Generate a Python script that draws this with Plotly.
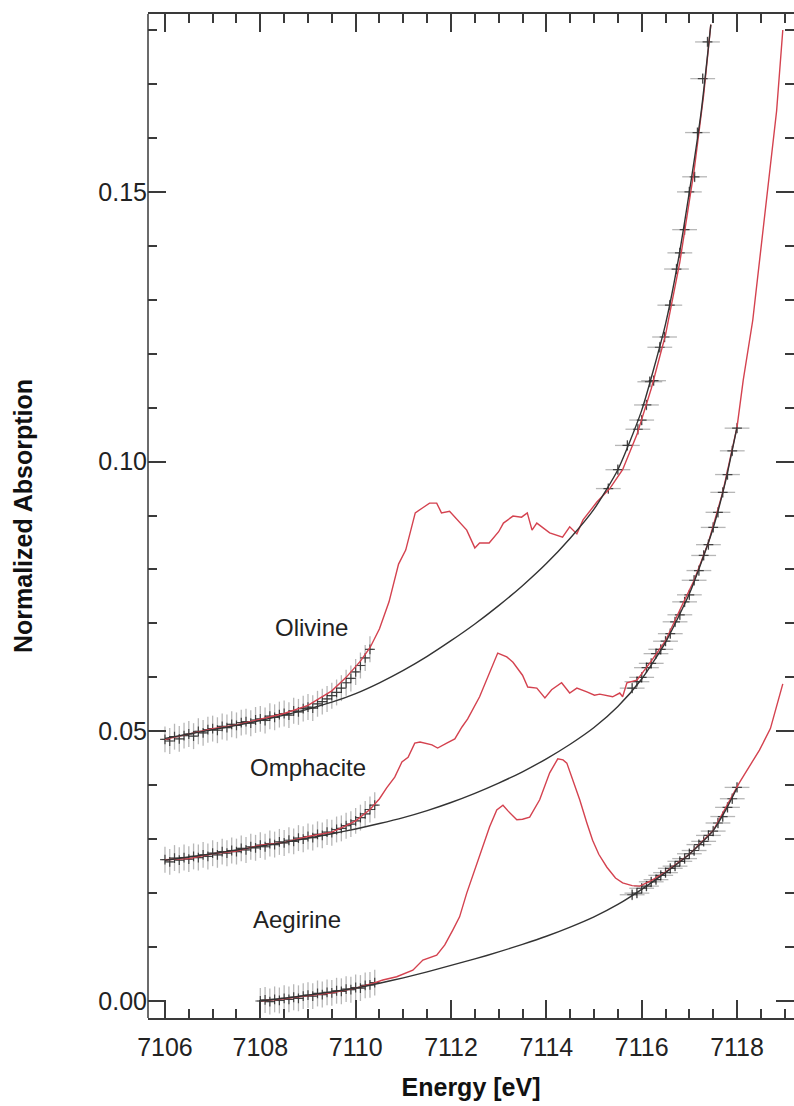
import plotly.graph_objects as go

# ---------------- data ----------------
# Olivine
oli_fit_x = [7106, 7106.5, 7107, 7107.5, 7108, 7108.5, 7109, 7109.5, 7110, 7110.5, 7111, 7111.5, 7112, 7112.5,
             7113, 7113.5, 7114, 7114.5, 7115, 7115.5, 7116, 7116.5, 7116.75, 7117, 7117.25, 7117.45]
oli_fit_y = [0.0487, 0.0495, 0.0503, 0.0511, 0.0520, 0.0530, 0.0541, 0.0554, 0.0570, 0.0590, 0.0613, 0.0639, 0.0668, 0.0699,
             0.0733, 0.0770, 0.0811, 0.0858, 0.0912, 0.0985, 0.1095, 0.1255, 0.1365, 0.1500, 0.1650, 0.1810]
oli_red_x = [7106.0, 7106.5, 7107.0, 7107.5, 7108.0, 7108.5, 7109.0, 7109.5, 7109.8, 7110.1, 7110.3, 7110.5, 7110.7,
             7110.9, 7111.05, 7111.25, 7111.4, 7111.55, 7111.7, 7111.8, 7111.97, 7112.15, 7112.33, 7112.5, 7112.6,
             7112.8, 7113.0, 7113.1, 7113.3, 7113.48, 7113.6, 7113.7, 7113.8, 7114.07, 7114.34, 7114.49, 7114.64,
             7114.77, 7115.06, 7115.33, 7115.6, 7115.9, 7116.2, 7116.5, 7116.8, 7117.1, 7117.3, 7117.45]
oli_red_y = [0.0485, 0.0495, 0.0505, 0.0512, 0.0522, 0.0533, 0.0548, 0.0575, 0.0600, 0.0630, 0.0655, 0.0690, 0.0740,
             0.0810, 0.0836, 0.0905, 0.0914, 0.0923, 0.0923, 0.0905, 0.0908, 0.0890, 0.0873, 0.0840, 0.0849,
             0.0849, 0.0870, 0.0886, 0.0899, 0.0897, 0.0905, 0.0873, 0.0886, 0.0868, 0.0860, 0.0879, 0.0866,
             0.0892, 0.0925, 0.0950, 0.0985, 0.1050, 0.1135, 0.1235, 0.1370, 0.1540, 0.1680, 0.1810]
oli_pts_lo_x = [7106.0, 7106.1, 7106.2, 7106.3, 7106.4, 7106.5, 7106.6, 7106.7, 7106.8, 7106.9,
                7107.0, 7107.1, 7107.2, 7107.3, 7107.4, 7107.5, 7107.6, 7107.7, 7107.8, 7107.9,
                7108.0, 7108.1, 7108.2, 7108.3, 7108.4, 7108.5, 7108.6, 7108.7, 7108.8, 7108.9,
                7109.0, 7109.1, 7109.2, 7109.3, 7109.4, 7109.5, 7109.6, 7109.7, 7109.8, 7109.9,
                7110.0, 7110.1, 7110.2, 7110.3]
oli_pts_lo_y = [0.0485, 0.0482, 0.0490, 0.0486, 0.0492, 0.0495, 0.0491, 0.0500, 0.0497, 0.0503,
                0.0505, 0.0502, 0.0509, 0.0507, 0.0513, 0.0511, 0.0516, 0.0518, 0.0515, 0.0521,
                0.0523, 0.0520, 0.0528, 0.0526, 0.0531, 0.0533, 0.0530, 0.0538, 0.0536, 0.0542,
                0.0545, 0.0543, 0.0551, 0.0555, 0.0560, 0.0566, 0.0572, 0.0580, 0.0590, 0.0598,
                0.0610, 0.0622, 0.0636, 0.0652]
oli_pts_hi_x = [7115.3, 7115.5, 7115.7, 7115.92, 7116.0, 7116.1, 7116.17, 7116.25, 7116.38, 7116.48,
                7116.59, 7116.73, 7116.8, 7116.9, 7117.0, 7117.11, 7117.17, 7117.28, 7117.38]
oli_pts_hi_y = [0.0950, 0.0985, 0.1030, 0.1060, 0.1077, 0.1105, 0.1148, 0.1150, 0.1212, 0.1231,
                0.1290, 0.1357, 0.1387, 0.1430, 0.1500, 0.1528, 0.1610, 0.1710, 0.1778]

# Omphacite
omp_fit_x = [7106, 7106.5, 7107, 7107.5, 7108, 7108.5, 7109, 7109.5, 7110, 7110.5, 7111, 7111.5, 7112, 7112.5,
             7113, 7113.5, 7114, 7114.5, 7115, 7115.5, 7116, 7116.5, 7117, 7117.25, 7117.5, 7117.75, 7118]
omp_fit_y = [0.0261, 0.0267, 0.0273, 0.0280, 0.0287, 0.0294, 0.0302, 0.0310, 0.0319, 0.0329, 0.0340, 0.0353, 0.0368, 0.0385,
             0.0404, 0.0425, 0.0449, 0.0476, 0.0507, 0.0546, 0.0597, 0.0665, 0.0755, 0.0813, 0.0877, 0.0960, 0.1064]
omp_red_x = [7106.0, 7106.5, 7107.0, 7107.5, 7108.0, 7108.5, 7109.0, 7109.5, 7109.8, 7110.0, 7110.3, 7110.5, 7110.65,
             7110.82, 7110.97, 7111.1, 7111.24, 7111.35, 7111.6, 7111.72, 7111.91, 7112.08, 7112.23, 7112.35, 7112.6,
             7112.81, 7112.98, 7113.17, 7113.3, 7113.5, 7113.61, 7113.8, 7113.97, 7114.11, 7114.32, 7114.49, 7114.64,
             7114.85, 7115.01, 7115.12, 7115.39, 7115.54, 7115.6, 7115.69, 7115.9, 7116.2, 7116.5, 7116.8, 7117.1,
             7117.4, 7117.7, 7118.0, 7118.13, 7118.33, 7118.5, 7118.62, 7118.83, 7118.96]
omp_red_y = [0.0262, 0.0264, 0.0273, 0.0278, 0.0289, 0.0294, 0.0305, 0.0313, 0.0325, 0.0334, 0.0355, 0.0375, 0.0395,
             0.0415, 0.0443, 0.0452, 0.0478, 0.0480, 0.0475, 0.0469, 0.0478, 0.0486, 0.0508, 0.0523, 0.0564,
             0.0608, 0.0645, 0.0638, 0.0628, 0.0604, 0.0582, 0.0580, 0.0562, 0.0577, 0.0590, 0.0571, 0.0580,
             0.0573, 0.0567, 0.0569, 0.0564, 0.0571, 0.0564, 0.0590, 0.0595, 0.0630, 0.0668, 0.0725, 0.0780,
             0.0850, 0.0943, 0.1064, 0.1151, 0.1262, 0.1390, 0.1485, 0.1650, 0.1800]
omp_pts_lo_x = [7106.0, 7106.1, 7106.2, 7106.3, 7106.4, 7106.5, 7106.6, 7106.7, 7106.8, 7106.9,
                7107.0, 7107.1, 7107.2, 7107.3, 7107.4, 7107.5, 7107.6, 7107.7, 7107.8, 7107.9,
                7108.0, 7108.1, 7108.2, 7108.3, 7108.4, 7108.5, 7108.6, 7108.7, 7108.8, 7108.9,
                7109.0, 7109.1, 7109.2, 7109.3, 7109.4, 7109.5, 7109.6, 7109.7, 7109.8, 7109.9,
                7110.0, 7110.1, 7110.2, 7110.3, 7110.4]
omp_pts_lo_y = [0.0262, 0.0258, 0.0265, 0.0261, 0.0266, 0.0263, 0.0268, 0.0266, 0.0271, 0.0268,
                0.0274, 0.0271, 0.0277, 0.0274, 0.0279, 0.0277, 0.0283, 0.0280, 0.0286, 0.0284,
                0.0289, 0.0286, 0.0292, 0.0290, 0.0295, 0.0293, 0.0298, 0.0296, 0.0302, 0.0300,
                0.0305, 0.0303, 0.0309, 0.0307, 0.0313, 0.0312, 0.0318, 0.0320, 0.0325, 0.0328,
                0.0334, 0.0340, 0.0347, 0.0355, 0.0363]
omp_pts_hi_x = [7115.8, 7115.9, 7116.0, 7116.1, 7116.2, 7116.3, 7116.4, 7116.5, 7116.6, 7116.7, 7116.8, 7116.9,
                7117.0, 7117.1, 7117.2, 7117.3, 7117.4, 7117.5, 7117.6, 7117.7, 7117.8, 7117.9, 7118.0]
omp_pts_hi_y = [0.0580, 0.0592, 0.0600, 0.0618, 0.0626, 0.0644, 0.0652, 0.0667, 0.0681, 0.0703, 0.0716, 0.0740,
                0.0753, 0.0780, 0.0798, 0.0826, 0.0846, 0.0878, 0.0906, 0.0943, 0.0976, 0.1020, 0.1062]

# Aegirine
aeg_fit_x = [7108, 7108.5, 7109, 7109.5, 7110, 7110.5, 7111, 7111.5, 7112, 7112.5, 7113, 7113.5, 7114, 7114.5,
             7115, 7115.5, 7116, 7116.5, 7117, 7117.5, 7117.75, 7118]
aeg_fit_y = [0.0000, 0.0005, 0.0011, 0.0017, 0.0024, 0.0033, 0.0043, 0.0054, 0.0066, 0.0078, 0.0091, 0.0105, 0.0120, 0.0137,
             0.0156, 0.0179, 0.0207, 0.0238, 0.0272, 0.0316, 0.0352, 0.0395]
aeg_red_x = [7108.0, 7108.5, 7109.0, 7109.5, 7110.0, 7110.3, 7110.57, 7110.86, 7111.2, 7111.41, 7111.7, 7111.87,
             7112.04, 7112.18, 7112.33, 7112.5, 7112.65, 7112.81, 7112.96, 7113.09, 7113.2, 7113.38, 7113.5,
             7113.65, 7113.86, 7114.07, 7114.24, 7114.35, 7114.43, 7114.55, 7114.7, 7114.85, 7114.97, 7115.1,
             7115.27, 7115.45, 7115.6, 7115.8, 7115.96, 7116.2, 7116.5, 7117.0, 7117.5, 7118.05, 7118.47,
             7118.7, 7118.96]
aeg_red_y = [0.0000, 0.0004, 0.0010, 0.0015, 0.0024, 0.0031, 0.0039, 0.0045, 0.0057, 0.0076, 0.0085, 0.0104,
             0.0132, 0.0156, 0.0200, 0.0245, 0.0285, 0.0323, 0.0354, 0.0363, 0.0352, 0.0336, 0.0337,
             0.0341, 0.0373, 0.0423, 0.0449, 0.0447, 0.0441, 0.0412, 0.0373, 0.0330, 0.0298, 0.0272,
             0.0248, 0.0228, 0.0219, 0.0214, 0.0213, 0.0223, 0.0239, 0.0272, 0.0316, 0.0405, 0.0465,
             0.0505, 0.0588]
aeg_pts_lo_x = [7108.0, 7108.1, 7108.2, 7108.3, 7108.4, 7108.5, 7108.6, 7108.7, 7108.8, 7108.9,
                7109.0, 7109.1, 7109.2, 7109.3, 7109.4, 7109.5, 7109.6, 7109.7, 7109.8, 7109.9,
                7110.0, 7110.1, 7110.2, 7110.3, 7110.4]
aeg_pts_lo_y = [0.0000, 0.0002, -0.0001, 0.0003, 0.0001, 0.0005, 0.0003, 0.0007, 0.0005, 0.0009,
                0.0011, 0.0009, 0.0014, 0.0012, 0.0016, 0.0015, 0.0019, 0.0018, 0.0022, 0.0021,
                0.0025, 0.0024, 0.0029, 0.0030, 0.0034]
aeg_pts_hi_x = [7115.8, 7115.9, 7116.0, 7116.1, 7116.2, 7116.3, 7116.4, 7116.5, 7116.6, 7116.7, 7116.8, 7116.9,
                7117.0, 7117.1, 7117.2, 7117.3, 7117.4, 7117.5, 7117.6, 7117.7, 7117.8, 7117.9, 7118.0]
aeg_pts_hi_y = [0.0197, 0.0200, 0.0209, 0.0213, 0.0221, 0.0225, 0.0233, 0.0238, 0.0246, 0.0250, 0.0259, 0.0264,
                0.0273, 0.0279, 0.0290, 0.0296, 0.0307, 0.0315, 0.0330, 0.0342, 0.0359, 0.0375, 0.0396]

labels = ["Olivine", "Omphacite", "Aegirine"]
label_x = [7109.08, 7109.0, 7108.77]
label_y = [0.0693, 0.0432, 0.0152]

x_ticks = [7106, 7108, 7110, 7112, 7114, 7116, 7118]
y_ticks = [0.00, 0.05, 0.10, 0.15]

# ---------------- figure ----------------
FONT = "Liberation Sans, Arial, Helvetica, sans-serif"
RED = "#d4424f"
FIT = "#333333"
ERR = "rgba(95,95,95,0.45)"
MK = "rgba(25,25,25,0.75)"
AX = "#3a3a3a"

fig = go.Figure()

point_sets = [
    (oli_pts_lo_x, oli_pts_lo_y, 0.07, 0.0024),
    (oli_pts_hi_x, oli_pts_hi_y, 0.26, 0.0010),
    (omp_pts_lo_x, omp_pts_lo_y, 0.07, 0.0024),
    (omp_pts_hi_x, omp_pts_hi_y, 0.26, 0.0010),
    (aeg_pts_lo_x, aeg_pts_lo_y, 0.07, 0.0024),
    (aeg_pts_hi_x, aeg_pts_hi_y, 0.26, 0.0010),
]
for px, py, ex, ey in point_sets:
    fig.add_trace(go.Scatter(
        x=px, y=py, mode="markers",
        marker=dict(symbol="cross-thin", size=7, line=dict(color=MK, width=1.2), color=MK),
        error_x=dict(type="constant", value=ex, color=ERR, thickness=1.3, width=0),
        error_y=dict(type="constant", value=ey, color=ERR, thickness=1.3, width=0),
        showlegend=False, hoverinfo="skip"))

for rx, ry in [(oli_red_x, oli_red_y), (omp_red_x, omp_red_y), (aeg_red_x, aeg_red_y)]:
    fig.add_trace(go.Scatter(x=rx, y=ry, mode="lines", line=dict(color=RED, width=1.4),
                             showlegend=False))

for fx, fy in [(oli_fit_x, oli_fit_y), (omp_fit_x, omp_fit_y), (aeg_fit_x, aeg_fit_y)]:
    fig.add_trace(go.Scatter(x=fx, y=fy, mode="lines", line=dict(color=FIT, width=1.4, shape="spline", smoothing=0.6),
                             showlegend=False))

for t, lx, ly in zip(labels, label_x, label_y):
    fig.add_annotation(x=lx, y=ly, text=t, showarrow=False,
                       font=dict(family=FONT, size=24, color="#222222"))

tick_common = dict(
    ticks="inside", tickcolor=AX, tickwidth=1.5, ticklen=18,
    showgrid=False, zeroline=False,
    tickfont=dict(family=FONT, size=25, color="#222222"),
)

fig.update_xaxes(
    showline=True, linecolor=AX, linewidth=1.5, mirror="ticks",
    range=[7105.644, 7119.195], tickvals=x_ticks, ticktext=[str(v) for v in x_ticks],
    ticklabelstandoff=6,
    minor=dict(dtick=0.5, tick0=7106, ticks="inside", ticklen=9, tickwidth=1.5, tickcolor=AX, showgrid=False),
    title=dict(text="<b>Energy [eV]</b>", font=dict(family=FONT, size=25, color="#111111"), standoff=19),
    **tick_common)
fig.update_yaxes(
    showline=False, mirror="ticks",
    range=[-0.00315, 0.18298], tickvals=y_ticks, ticktext=[f"{v:.2f}" for v in y_ticks],
    minor=dict(dtick=0.01, tick0=0, ticks="inside", ticklen=9, tickwidth=1.5, tickcolor=AX, showgrid=False),
    title=dict(text="<b>Normalized Absorption</b>", font=dict(family=FONT, size=25, color="#111111"), standoff=58),
    **tick_common)

# left frame line (the right frame line lies just outside the picture)
fig.add_shape(type="line", xref="paper", yref="paper", x0=0, x1=0, y0=0, y1=1,
              line=dict(color=AX, width=1.5))

fig.update_layout(
    width=794, height=1106,
    margin=dict(l=148, r=0, t=14, b=88),
    paper_bgcolor="white", plot_bgcolor="white",
    font=dict(family=FONT),
)

fig.write_html("out.html")
